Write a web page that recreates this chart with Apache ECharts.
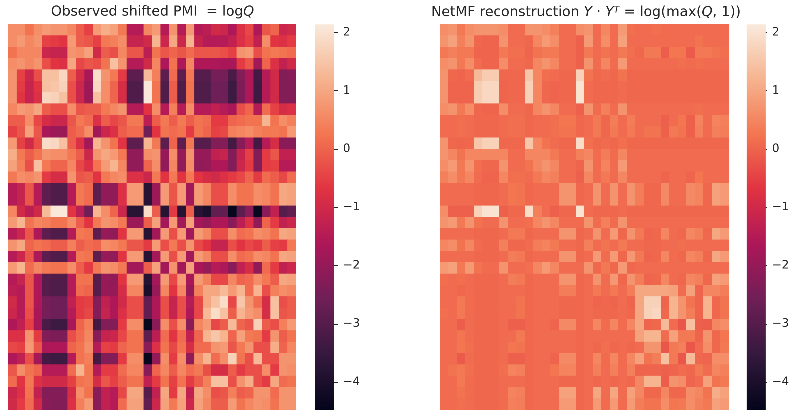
<!DOCTYPE html>
<html><head><meta charset="utf-8">
<style>html,body{margin:0;padding:0;background:#fff}#c{width:792px;height:412px}</style>
<script src="https://cdn.jsdelivr.net/npm/echarts@6/dist/echarts.min.js"></script>
</head><body><div id="c"></div>
<script>
const observed = [
[.6,.6,.2,.6,.8,.7,.7,.5,-.1,-.5,.8,1.1,.9,.3,-1.5,-1.5,.5,.8,-1.5,.7,-1.5,.8,-1.5,-1.4,-1.0,-1.1,-1.6,-.8,-.4,-1.6,-.2,0,-1.1,-1.0],
[.6,.8,.5,.7,-.5,-.6,-.7,.8,-.1,-.2,-.5,.3,.4,.6,-1.2,-1.2,-1.0,1.2,-1.1,1.0,-1.1,1.2,-1.2,-1.5,-1.5,-1.5,-1.3,-.8,-.5,-1.3,.6,-.7,-.8,-.6],
[.2,.5,.5,.5,-1.1,-1.2,-1.2,.7,.6,.9,-1.0,-.1,-.3,.5,-.2,-.2,-1.4,.2,-.2,0,-.2,.1,-.2,-.2,-.2,-.3,-.5,.7,.8,-.3,.2,.3,.2,.1],
[.6,.7,.5,.7,-.3,-.7,-.8,1.0,-.4,-.2,-.3,.2,1.4,.7,-1.5,-1.5,-1.0,.5,-1.6,.2,-1.6,.5,-1.6,-1.6,-1.6,-1.7,-1.7,-.6,-.2,-1.8,0,-.8,-1.3,-1.0],
[.7,-.5,-1.1,-.3,1.4,1.4,1.8,-.1,-.9,-1.7,1.9,.7,.3,-.6,-2.9,-2.9,1.3,.4,-2.9,.1,-2.9,.3,-3.0,-3.0,-2.5,-2.5,-3.2,-2.3,-1.6,-3.3,-1.5,-1.0,-2.3,-2.2],
[.7,-.6,-1.2,-.7,1.4,1.5,1.7,-.3,-1.1,-1.9,1.8,.6,0,-.9,-3.1,-3.1,2.1,.2,-3.1,-.1,-3.1,.2,-3.1,-3.1,-2.6,-2.6,-3.4,-2.4,-1.6,-3.4,-1.5,-1.0,-2.3,-2.3],
[.7,-.7,-1.2,-.8,1.8,1.7,1.4,-.3,-1.1,-1.9,1.4,.6,0,-.9,-3.1,-3.1,2.1,.2,-3.1,-.1,-3.1,.2,-3.1,-3.1,-2.6,-2.6,-3.4,-2.4,-1.6,-3.4,-1.5,-1.0,-2.3,-2.3],
[.5,.8,.7,1.0,-.1,-.3,-.3,.6,-.2,-.1,-.1,.3,.5,.7,-1.5,-1.5,-.7,.6,-1.5,.4,-1.5,.6,-1.5,-1.5,-1.3,-1.5,-1.7,-.3,0,-1.5,.1,-.5,-.9,-.8],
[-.1,-.1,.6,-.4,-.9,-1.1,-1.1,-.2,.3,.1,-.8,-.1,-.4,-.2,.3,.3,-1.4,-.1,.3,-.1,.3,-.1,.2,.1,-.6,-.6,0,.1,.2,.2,1.2,.2,.6,.4],
[-.5,-.2,.9,-.2,-1.7,-1.9,-1.9,-.1,.1,.6,-1.8,-1.1,-.8,-.1,.1,.1,-2.6,-.7,.2,.1,.2,-.6,.2,0,-.5,-.4,.4,.5,.6,.4,.3,.3,.2,.8],
[.8,-.5,-1.0,-.3,1.9,1.8,1.4,-.1,-.8,-1.8,1.2,.7,.2,-.7,-2.9,-2.9,1.2,.3,-2.9,0,-2.9,.3,-3.0,-3.0,-2.3,-2.3,-3.3,-2.2,-1.5,-3.3,-1.5,-.9,-2.2,-2.2],
[1.1,.3,-.1,.2,.7,.6,.6,.3,-.1,-1.1,.7,1.0,.8,.3,-2.1,-2.1,.6,.7,-2.0,.6,-2.0,.7,-2.0,-2.0,-1.3,-1.2,-2.3,-1.2,-.5,-2.3,-.6,-.2,-1.3,-1.3],
[.9,.4,-.3,1.4,.3,0,0,.5,-.4,-.8,.2,.8,1.2,.5,-2.1,-2.1,0,.6,-2.1,.5,-2.1,.6,-2.1,-2.0,-1.6,-1.6,-2.3,-1.1,-.6,-2.3,-.6,-.5,-1.5,-1.5],
[.3,.6,.5,.7,-.6,-.9,-.9,.7,-.2,-.1,-.7,.3,.5,.6,-.8,-.8,-1.1,.3,-.7,.3,-.7,.3,-.7,-.9,-1.0,-.8,-.6,-.4,0,-.6,.1,-.1,-.4,.1],
[-1.5,-1.2,-.2,-1.5,-2.9,-3.1,-3.1,-1.5,.3,.1,-2.9,-2.1,-2.1,-.8,.8,.8,-3.8,-1.9,.8,-.2,.8,-1.8,.8,.5,-.3,-.3,.6,.2,.2,.6,.5,.2,1.0,.9],
[-1.5,-1.2,-.2,-1.5,-2.9,-3.1,-3.1,-1.5,.3,.1,-2.9,-2.1,-2.1,-.8,.8,.8,-3.8,-1.9,.8,-.2,.8,-1.8,.8,.5,-.3,-.3,.6,.2,.2,.6,.5,.2,1.0,.9],
[.5,-1.0,-1.4,-1.0,1.3,2.1,2.1,-.7,-1.4,-2.6,1.2,.6,0,-1.1,-3.8,-3.8,1.9,-.1,-3.8,-.6,-3.8,-.1,-3.8,-4.0,-2.8,-2.8,-4.4,-2.9,-2.2,-4.4,-2.2,-1.3,-3.0,-2.8],
[.8,1.2,.2,.5,.4,.2,.2,.6,-.1,-.7,.3,.7,.6,.3,-1.9,-1.9,-.1,.9,-1.8,.8,-1.8,.9,-1.8,-2.0,-1.6,-1.6,-2.2,-1.4,-.8,-2.1,0,-.6,-1.3,-1.1],
[-1.5,-1.1,-.2,-1.6,-2.9,-3.1,-3.1,-1.5,.3,.2,-2.9,-2.0,-2.1,-.7,.8,.8,-3.8,-1.8,.8,-.3,.8,-1.8,.8,.5,-.3,-.3,.6,.1,.2,.6,.5,.2,1.0,.9],
[.7,1.0,0,.2,.1,-.1,-.1,.4,-.1,.1,0,.6,.5,.3,-.2,-.2,-.6,.8,-.3,.3,-.3,.7,-.4,-.7,-1.2,-1.2,-.3,-.7,-.4,-.6,-.1,-.5,-.6,.3],
[-1.5,-1.1,-.2,-1.6,-2.9,-3.1,-3.1,-1.5,.3,.2,-2.9,-2.0,-2.1,-.7,.8,.8,-3.8,-1.8,.8,-.3,.8,-1.8,.8,.5,-.3,-.3,.6,.1,.2,.6,.5,.2,1.0,.9],
[.8,1.2,.1,.5,.3,.2,.2,.6,-.1,-.6,.3,.7,.6,.3,-1.8,-1.8,-.1,.9,-1.8,.7,-1.8,.9,-1.7,-2.0,-1.5,-1.6,-2.2,-1.3,-.9,-2.1,.1,-.6,-1.3,-1.1],
[-1.5,-1.2,-.2,-1.6,-3.0,-3.1,-3.1,-1.5,.2,.2,-3.0,-2.0,-2.1,-.7,.8,.8,-3.8,-1.8,.8,-.4,.8,-1.7,.8,.4,-.4,-.4,.5,0,.1,.6,.3,-.1,1.0,.9],
[-1.4,-1.5,-.2,-1.6,-3.0,-3.1,-3.1,-1.5,.1,0,-3.0,-2.0,-2.0,-.9,.5,.5,-4.0,-2.0,.5,-.7,.5,-2.0,.4,1.0,1.0,1.3,.8,1.2,.1,1.2,-.3,.4,.6,.5],
[-1.0,-1.5,-.2,-1.6,-2.5,-2.6,-2.6,-1.3,-.6,-.5,-2.3,-1.3,-1.6,-1.0,-.3,-.3,-2.8,-1.6,-.3,-1.2,-.3,-1.5,-.4,1.0,1.4,1.9,-.4,1.5,.7,.1,-.9,1.4,-.3,-.1],
[-1.1,-1.5,-.3,-1.7,-2.5,-2.6,-2.6,-1.5,-.6,-.4,-2.3,-1.2,-1.6,-.8,-.3,-.3,-2.8,-1.6,-.3,-1.2,-.3,-1.6,-.4,1.3,1.9,1.4,-.1,1.2,.8,.6,-.9,1.4,-.2,-.1],
[-1.6,-1.3,-.5,-1.7,-3.2,-3.4,-3.4,-1.7,0,.4,-3.3,-2.3,-2.3,-.6,.6,.6,-4.4,-2.2,.6,-.3,.6,-2.2,.5,.8,-.4,-.1,1.3,0,-.2,1.7,-.1,-.3,.4,.8],
[-.8,-.8,.7,-.6,-2.3,-2.4,-2.4,-.3,.1,.5,-2.2,-1.2,-1.1,-.4,.2,.2,-2.9,-1.4,.1,-.7,.1,-1.3,0,1.2,1.5,1.2,0,.9,.3,.2,-.6,.7,-.1,.2],
[-.4,-.5,.8,-.2,-1.6,-1.6,-1.6,0,.2,.6,-1.5,-.5,-.6,0,.2,.2,-2.2,-.8,.2,-.4,.2,-.9,.1,.1,.7,.8,-.2,.3,.7,-.3,-.3,1.1,0,.5],
[-1.6,-1.3,-.3,-1.8,-3.3,-3.4,-3.4,-1.5,.2,.4,-3.3,-2.3,-2.3,-.6,.6,.6,-4.4,-2.1,.6,-.6,.6,-2.1,.6,1.2,.1,.6,1.7,.2,-.3,1.3,-.3,-.3,.7,.7],
[-.2,.6,.2,0,-1.5,-1.5,-1.5,.1,1.2,.3,-1.5,-.6,-.6,.1,.5,.5,-2.2,0,.5,-.1,.5,.1,.3,-.3,-.9,-.9,-.1,-.6,-.3,-.3,.6,-.6,.7,.6],
[.1,-.7,.3,-.8,-1.0,-1.0,-1.0,-.5,.2,.3,-.9,-.2,-.5,-.1,.2,.2,-1.3,-.6,.2,-.5,.2,-.6,-.1,.4,1.4,1.4,-.3,.7,1.1,-.3,-.6,1.0,.1,.2],
[-1.1,-.8,.2,-1.3,-2.3,-2.3,-2.3,-.9,.6,.2,-2.2,-1.3,-1.5,-.4,1.0,1.0,-3.0,-1.3,1.0,-.6,1.0,-1.3,1.0,.6,-.3,-.2,.4,-.1,0,.7,.7,.1,.7,.7],
[-1.0,-.6,.1,-1.0,-2.2,-2.3,-2.3,-.8,.4,.8,-2.2,-1.3,-1.5,.1,.9,.9,-2.8,-1.1,.9,.3,.9,-1.1,.9,.5,-.1,-.1,.8,.2,.5,.7,.6,.2,.7,.7]
];
const reconstruction = [
[.6,.7,.3,.6,.7,.7,.7,.6,.1,.1,.7,.7,.6,.4,.1,.1,.6,.7,.1,.5,.1,.8,.15,.1,.1,.15,.1,.1,.1,.1,.1,.1,.1,.1],
[.7,.9,.4,.7,.05,0,0,.7,.1,.1,.05,.5,.8,.6,.1,.1,-.05,.8,.1,.6,.1,.9,.1,.1,.1,.1,.1,.1,.1,.1,.2,.1,.1,.1],
[.3,.4,.3,.3,0,0,0,.3,.15,.15,0,.2,.3,.3,.1,.1,-.05,.3,.1,.2,.1,.3,.15,.05,.3,.3,-.1,.25,.25,-.15,.3,.3,.2,.15],
[.6,.7,.3,.6,.1,0,0,.6,.1,.1,.05,.5,.7,.5,.1,.1,-.05,.7,.1,.5,.1,.8,.1,.1,.1,.1,.1,.1,.15,.1,.15,.1,.1,.1],
[.7,.05,0,.1,1.3,1.6,1.6,.05,.05,.05,1.5,.5,.15,.1,.05,.05,1.7,.2,.05,.1,.05,.2,.05,.05,.05,.05,.05,.05,.05,.05,.05,.05,.05,.05],
[.7,0,0,0,1.6,1.8,1.8,0,.05,.05,1.7,.5,.05,0,.05,.05,2.0,.1,.05,.05,.05,.1,.05,.05,.05,.05,.05,.05,.05,.05,.05,.05,.05,.05],
[.7,0,0,0,1.6,1.8,1.8,0,.05,.05,1.7,.5,.05,0,.05,.05,2.0,.1,.05,.05,.05,.1,.05,.05,.05,.05,.05,.05,.05,.05,.05,.05,.05,.05],
[.6,.7,.3,.6,.05,0,0,.6,.1,.1,.05,.5,.7,.5,.1,.1,-.05,.7,.1,.4,.1,.7,.1,.1,.1,.1,.1,.1,.1,.1,.15,.1,.1,.1],
[.1,.1,.15,.1,.05,.05,.05,.1,.15,.15,.05,.1,.1,.15,.25,.25,.05,.1,.3,.05,.35,.1,.35,.1,.1,.1,-.05,.1,.25,-.05,.45,.1,.45,.4],
[.1,.1,.15,.1,.05,.05,.05,.1,.15,.15,.05,.1,.1,.15,.2,.2,.05,.1,.3,.05,.3,.1,.3,.1,.2,.2,-.05,.3,.2,-.05,.4,.1,.4,.35],
[.7,.05,0,.05,1.5,1.7,1.7,.05,.05,.05,1.5,.5,.2,.1,.05,.05,1.9,.15,.05,.1,.05,.15,.05,.05,.05,.05,.05,.05,.05,.05,.05,.05,.05,.05],
[.7,.5,.2,.5,.5,.5,.5,.5,.1,.1,.5,.5,.5,.3,.1,.1,.4,.5,.1,.35,.1,.5,.1,.1,.1,.1,.1,.1,.1,.1,.1,.1,.1,.1],
[.6,.8,.3,.7,.15,.05,.05,.7,.1,.1,.2,.5,.7,.5,.1,.1,0,.7,.1,.45,.1,.8,.1,.1,.1,.1,.1,.1,.1,.1,.1,.1,.1,.1],
[.4,.6,.3,.5,.1,0,0,.5,.15,.15,.1,.3,.5,.4,.1,.1,-.05,.5,.1,.3,.1,.5,.1,.1,.1,.1,0,.1,.1,0,.25,.1,.1,.1],
[.1,.1,.1,.1,.05,.05,.05,.1,.25,.2,.05,.1,.1,.1,.7,.7,.05,.1,.7,.1,.7,.1,.7,.35,.05,.05,.55,.1,.1,.55,.45,.05,.9,.8],
[.1,.1,.1,.1,.05,.05,.05,.1,.25,.2,.05,.1,.1,.1,.7,.7,.05,.1,.7,.1,.7,.1,.7,.35,.05,.05,.55,.1,.1,.55,.45,.05,.9,.8],
[.6,-.05,-.05,-.05,1.7,2.0,2.0,-.05,.05,.05,1.9,.4,.1,-.05,.05,.05,2.0,.1,.05,.05,.05,.1,.05,.05,.05,.05,.05,.05,.05,.05,.05,.05,.05,.05],
[.7,.8,.3,.7,.2,.1,.1,.7,.1,.1,.15,.5,.7,.5,.1,.1,.1,.7,.1,.4,.1,.7,.1,.1,.1,.1,.1,.1,.1,.1,.1,.1,.1,.1],
[.1,.1,.1,.1,.05,.05,.05,.1,.3,.3,.05,.1,.1,.1,.7,.7,.05,.1,.7,.1,.8,.05,.7,.3,0,.05,.5,.1,.05,.5,.4,.05,1.0,.8],
[.5,.6,.2,.5,.1,.05,.05,.4,.05,.05,.1,.35,.45,.3,.1,.1,.05,.4,.1,.2,.1,.3,.1,.1,.05,.05,.1,.1,.15,.1,.1,.1,.1,.1],
[.1,.1,.1,.1,.05,.05,.05,.1,.35,.3,.05,.1,.1,.1,.7,.7,.05,.1,.8,.1,.8,.05,.75,.3,0,.05,.5,.1,.05,.5,.4,.05,1.0,.8],
[.8,.9,.3,.8,.2,.1,.1,.7,.1,.1,.15,.5,.8,.5,.1,.1,.1,.7,.05,.3,.05,.8,.05,.1,.1,.1,.1,.1,.1,.1,.1,.1,.1,.1],
[.15,.1,.15,.1,.05,.05,.05,.1,.35,.3,.05,.1,.1,.1,.7,.7,.05,.1,.7,.1,.75,.05,.7,.35,0,.05,.5,.1,.05,.5,.4,.05,.9,.8],
[.1,.1,.05,.1,.05,.05,.05,.1,.1,.1,.05,.1,.1,.1,.35,.35,.05,.1,.3,.1,.3,.1,.35,1.0,1.0,1.0,1.0,.9,.1,.9,0,.5,.5,.35],
[.1,.1,.3,.1,.05,.05,.05,.1,.1,.2,.05,.1,.1,.1,.05,.05,.05,.1,0,.05,0,.1,0,1.0,1.7,1.7,0,1.2,.7,.2,0,1.2,.05,.2],
[.15,.1,.3,.1,.05,.05,.05,.1,.1,.2,.05,.1,.1,.1,.05,.05,.05,.1,.05,.05,.05,.1,.05,1.0,1.7,1.8,.05,1.2,.7,.35,0,1.2,.05,.2],
[.1,.1,-.1,.1,.05,.05,.05,.1,-.05,-.05,.05,.1,.1,0,.55,.55,.05,.1,.5,.1,.5,.1,.5,1.0,0,.05,1.3,.1,-.2,1.4,-.05,-.1,.5,.6],
[.1,.1,.25,.1,.05,.05,.05,.1,.1,.3,.05,.1,.1,.1,.1,.1,.05,.1,.1,.1,.1,.1,.1,.9,1.2,1.2,.1,.9,.3,.3,0,.7,.05,.25],
[.1,.1,.25,.15,.05,.05,.05,.1,.25,.2,.05,.1,.1,.1,.1,.1,.05,.1,.05,.15,.05,.1,.05,.1,.7,.7,-.2,.3,.4,-.2,.1,.6,.05,.3],
[.1,.1,-.15,.1,.05,.05,.05,.1,-.05,-.05,.05,.1,.1,0,.55,.55,.05,.1,.5,.1,.5,.1,.5,.9,.2,.35,1.4,.3,-.2,1.3,.05,0,.6,.6],
[.1,.2,.3,.15,.05,.05,.05,.15,.45,.4,.05,.1,.1,.25,.45,.45,.05,.1,.4,.1,.4,.1,.4,0,0,0,-.05,0,.1,.05,.3,.1,.5,.4],
[.1,.1,.3,.1,.05,.05,.05,.1,.1,.1,.05,.1,.1,.1,.05,.05,.05,.1,.05,.1,.05,.1,.05,.5,1.2,1.2,-.1,.7,.6,0,.1,.9,.2,.3],
[.1,.1,.2,.1,.05,.05,.05,.1,.45,.4,.05,.1,.1,.1,.9,.9,.05,.1,1.0,.1,1.0,.1,.9,.5,.05,.05,.5,.05,.05,.6,.5,.2,1.1,.9],
[.1,.1,.15,.1,.05,.05,.05,.1,.4,.35,.05,.1,.1,.1,.8,.8,.05,.1,.8,.1,.8,.1,.8,.35,.2,.2,.6,.25,.3,.6,.4,.3,.9,.8]
];
const nodes = ['0','1','2','3','4','5','6','7','8','9','10','11','12','13','14','15','16','17','18','19','20','21','22','23','24','25','26','27','28','29','30','31','32','33'];
const rocket = ['#03051a','#35193e','#701f57','#ad1759','#e13342','#f37651','#f6b48f','#faebdd'];
const colorMin = -4.48, colorMax = 2.14;
const colorTicks = [-4,-3,-2,-1,0,1,2];

function cells(m){ const out=[]; m.forEach((row,y)=>row.forEach((v,x)=>out.push([x,y,v]))); return out; }
const mathFont = '"DejaVu Sans"';
const fs = 13.8;
const titleStyle = {fontFamily:mathFont,fontSize:fs,color:'#262626',fontWeight:'normal'};
const rich = {
  a:{fontFamily:mathFont,fontSize:fs,color:'#262626'},
  i:{fontFamily:mathFont,fontSize:fs,color:'#262626',fontStyle:'italic'},
  s:{fontFamily:mathFont,fontSize:9.5,color:'#262626',fontStyle:'italic',verticalAlign:'top',lineHeight:15,padding:[0,0,6,0]}
};
function vm(i){ return {type:'continuous',show:false,seriesIndex:i,min:colorMin,max:colorMax,dimension:2,inRange:{color:rocket}}; }
const gradientStops = rocket.map((color,i)=>({offset:i/(rocket.length-1),color}));
function bar(x){ return {type:'rect',z:1,silent:true,shape:{x,y:24.3,width:19,height:385.7},
  style:{fill:new echarts.graphic.LinearGradient(0,1,0,0,gradientStops)}}; }
const hideCat = (gridIndex,inverse)=>({type:'category',data:nodes,show:false,gridIndex,inverse});
const barX = g=>({type:'value',gridIndex:g,show:false,min:0,max:1});
const barY = g=>({type:'value',gridIndex:g,position:'right',min:colorMin,max:colorMax,
  splitLine:{show:false},axisLine:{show:false,onZero:false},
  axisTick:{show:true,length:4,inside:false,customValues:colorTicks,lineStyle:{color:'#262626',width:1}},
  axisLabel:{show:true,customValues:colorTicks,margin:9,color:'#262626',fontFamily:mathFont,fontSize:11.5,
    formatter:v=>String(v).replace('-','\u2212')}});
const chart = echarts.init(document.getElementById('c'),null,{renderer:'canvas',devicePixelRatio:4});
const plotBack = {show:true,borderWidth:0,backgroundColor:'#f0694a'};
chart.setOption({
  animation:false,backgroundColor:'#fff',
  title:[
   {text:'{a|Observed shifted PMI  = log}{i|Q}',left:147.5,top:0,textAlign:'center',textStyle:{...titleStyle,rich}},
   {text:'{a|NetMF reconstruction }{i|Y}{a| \u00b7 }{i|Y}{s|T}{a| = log(max(}{i|Q}{a|, 1))}',left:581,top:0,textAlign:'center',textStyle:{...titleStyle,rich}}
  ],
  grid:[
   {left:8.5,top:24.3,width:287.5,height:385.7,...plotBack},
   {left:440,top:24.3,width:289,height:385.7,...plotBack},
   {left:315,top:24.3,width:19,height:385.7},
   {left:746.7,top:24.3,width:19,height:385.7}
  ],
  xAxis:[hideCat(0,false),hideCat(1,false),barX(2),barX(3)],
  yAxis:[hideCat(0,true),hideCat(1,true),barY(2),barY(3)],
  visualMap:[vm(0),vm(1)],
  graphic:[bar(315),bar(746.7)],
  series:[
   {type:'heatmap',xAxisIndex:0,yAxisIndex:0,data:cells(observed),progressive:0},
   {type:'heatmap',xAxisIndex:1,yAxisIndex:1,data:cells(reconstruction),progressive:0}
  ]
});
</script></body></html>
